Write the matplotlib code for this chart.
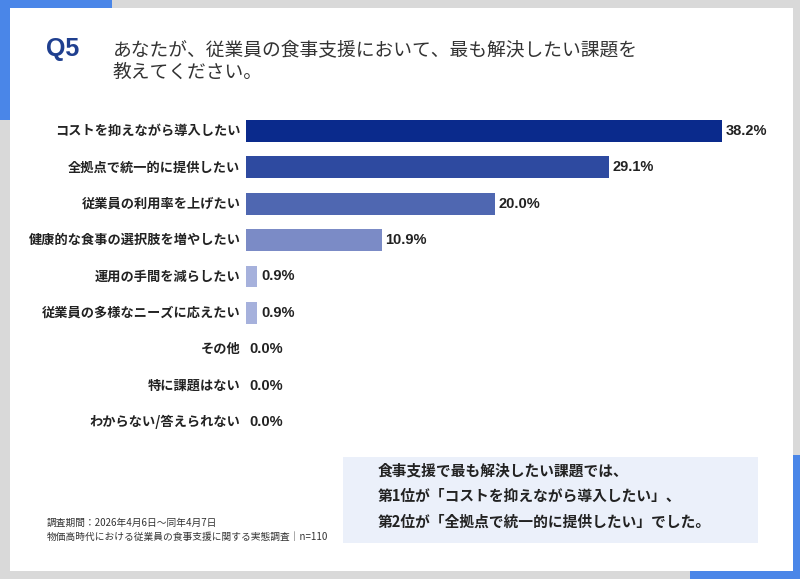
import matplotlib
matplotlib.use("Agg")
import matplotlib.pyplot as plt
from matplotlib.patches import Rectangle

plt.rcParams['font.family'] = ['Noto Sans CJK JP', 'DejaVu Sans']

labels = ["コストを抑えながら導入したい", "全拠点で統一的に提供したい", "従業員の利用率を上げたい",
          "健康的な食事の選択肢を増やしたい", "運用の手間を減らしたい", "従業員の多様なニーズに応えたい",
          "その他", "特に課題はない", "わからない/答えられない"]
values = [38.2, 29.1, 20.0, 10.9, 0.9, 0.9, 0.0, 0.0, 0.0]
colors = ["#0a2a8c", "#2e4aa0", "#4f67b1", "#7b8bc6", "#a6b1dc", "#a6b1dc",
          "#a6b1dc", "#a6b1dc", "#a6b1dc"]

title = "あなたが、従業員の食事支援において、最も解決したい課題を\n教えてください。"
summary = ["食事支援で最も解決したい課題では、",
           "第1位が「コストを抑えながら導入したい」、",
           "第2位が「全拠点で統一的に提供したい」でした。"]
footnote = ["調査期間：2026年4月6日～同年4月7日",
            "物価高時代における従業員の食事支援に関する実態調査｜n=110"]

W, H = 800, 579
fig = plt.figure(figsize=(W / 100, H / 100), dpi=100)
fig.patch.set_facecolor("#d9d9d9")

# background / decoration in pixel coords
bg = fig.add_axes([0, 0, 1, 1])
bg.set_xlim(0, W)
bg.set_ylim(H, 0)
bg.axis("off")
bg.add_patch(Rectangle((0, 0), 112, 8, color="#4a86e8", lw=0))
bg.add_patch(Rectangle((0, 0), 10, 120, color="#4a86e8", lw=0))
bg.add_patch(Rectangle((793, 455), 7, 124, color="#4a86e8", lw=0))
bg.add_patch(Rectangle((690, 571), 110, 8, color="#4a86e8", lw=0))
bg.add_patch(Rectangle((10, 8), 783, 563, color="white", lw=0))
bg.add_patch(Rectangle((343, 457), 415, 86, color="#ebf0fa", lw=0))

bg.text(46, 49, "Q5", fontsize=18, fontweight="bold", color="#1f3f8f",
        family=["Liberation Sans"], va="center")
bg.text(113, 61, title, fontsize=13.5, color="#333333", va="center", linespacing=1.15)

for i, s in enumerate(summary):
    bg.text(378, 470 + i * 26, s, fontsize=10.6, fontweight="bold", color="#222222", va="center")
for i, s in enumerate(footnote):
    bg.text(47, 523 + i * 14, s, fontsize=7, color="#333333", va="center")

# bar chart
x0, x1 = 246, 722
ytop, ybot = 112.8, 440.2
ax = fig.add_axes([x0 / W, 1 - ybot / H, (x1 - x0) / W, (ybot - ytop) / H])
ax.set_facecolor("none")
ypos = list(range(len(labels)))
ax.barh(ypos, values, height=0.6, color=colors)
ax.set_xlim(0, max(values))
ax.set_ylim(len(labels) - 0.5, -0.5)
ax.axis("off")
for y, v, lab in zip(ypos, values, labels):
    ax.text(v + 0.3, y, f"{v:.1f}%", fontsize=10.5, fontweight="bold", color="#222222",
            family=["Liberation Sans"], va="center", ha="left")
    ax.text(-0.45, y, lab, fontsize=9.5, fontweight="bold", color="#222222",
            va="center", ha="right")

fig.savefig("out.png", dpi=100, facecolor=fig.get_facecolor())
